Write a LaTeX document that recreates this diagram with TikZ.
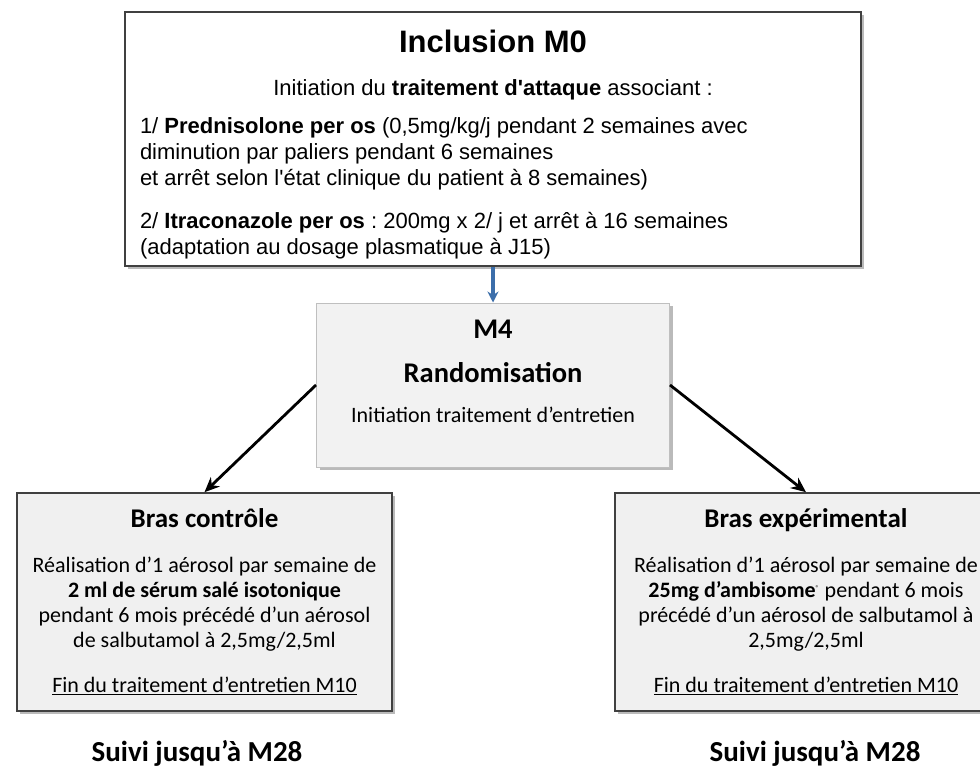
\documentclass[tikz,border=0pt]{standalone}
\usepackage{fontspec}
\setmainfont{Carlito}
\newfontfamily\arialfont{Liberation Sans}
\usetikzlibrary{positioning,shadows,arrows.meta}
\frenchspacing
\tikzset{
  shade box/.style={drop shadow={shadow xshift=3pt,shadow yshift=-3pt,fill=black!45,opacity=.6}},
  inclbox/.style={draw=black!75,line width=1.6pt,fill=white,shade box,minimum width=736pt,minimum height=254pt,
    text width=706pt,align=flush left,inner sep=0pt,font=\arialfont\fontsize{22}{26}\selectfont},
  randbox/.style={draw=black!25,line width=1pt,fill=black!5,shade box,minimum width=353pt,minimum height=164pt,
    text width=330pt,align=flush center,inner sep=0pt,font=\fontsize{22}{26}\selectfont},
  armbox/.style={draw=black!75,line width=1.6pt,fill=black!6,shade box,minimum width=375pt,minimum height=218pt,
    text width=365pt,align=flush center,inner sep=0pt,font=\fontsize{22}{25}\selectfont},
  suivi/.style={font=\fontsize{29}{32}\selectfont\bfseries},
  arm/.style={line width=2.8pt,-{Stealth[length=15pt,width=13pt]}}
}
\begin{document}
\begin{tikzpicture}[x=1pt,y=-1pt]
\useasboundingbox (0,0) rectangle (980,771);
% inclusion
\node[inclbox] (incl) at (493,139) {%
  {\centering\fontsize{31}{36}\selectfont\bfseries\rule{0pt}{33pt}Inclusion M0\par}
  \vspace{17pt}
  {\centering Initiation du \textbf{traitement d'attaque} associant :\par}
  \vspace{12pt}
  1/ \textbf{Prednisolone per os} (0,5mg/kg/j pendant 2 semaines avec\\
  diminution par paliers pendant 6 semaines\\
  et arrêt selon l'état clinique du patient à 8 semaines)\par
  \vspace{17pt}
  2/ \textbf{Itraconazole per os} : 200mg x 2/ j et arrêt à 16 semaines\\
  (adaptation au dosage plasmatique à J15)};
% randomisation
\node[randbox] (rand) at (493,385) {%
  {\fontsize{28.5}{30}\selectfont\bfseries M4}\\[18pt]
  {\fontsize{28.5}{30}\selectfont\bfseries Randomisation}\\[14pt]
  Initiation traitement d’entretien\rule[-27pt]{0pt}{0pt}};
% bras
\node[armbox] (ctrl) at (204.5,602) {%
  {\fontsize{27}{30}\selectfont\bfseries Bras contrôle}\\[20pt]
  Réalisation d’1 aérosol par semaine de\\
  \textbf{2 ml de sérum salé isotonique}\\
  pendant 6 mois précédé d’un aérosol\\
  de salbutamol à 2,5mg/2,5ml\\[20pt]
  \underline{Fin du traitement d’entretien M10}};
\node[armbox,minimum width=382pt] (expe) at (806,602) {%
  {\fontsize{27}{30}\selectfont\bfseries Bras expérimental}\\[20pt]
  Réalisation d’1 aérosol par semaine de\\
  \textbf{25mg d’ambisome}\textsuperscript{\scriptsize ®} pendant 6 mois\\
  précédé d’un aérosol de salbutamol à\\
  2,5mg/2,5ml\\[20pt]
  \underline{Fin du traitement d’entretien M10}};
\node[suivi] (suiviA) at (197,753) {Suivi jusqu’à M28};
\node[suivi] (suiviB) at (815,753) {Suivi jusqu’à M28};
% fleches
\draw[line width=3.4pt,color={rgb,255:red,60;green,110;blue,170},-{Stealth[length=11pt,width=11pt]}] (incl.south) -- (rand.north);
\draw[arm] (rand.west) -- (ctrl.north);
\draw[arm] (rand.east) -- (expe.north);
\end{tikzpicture}
\end{document}
